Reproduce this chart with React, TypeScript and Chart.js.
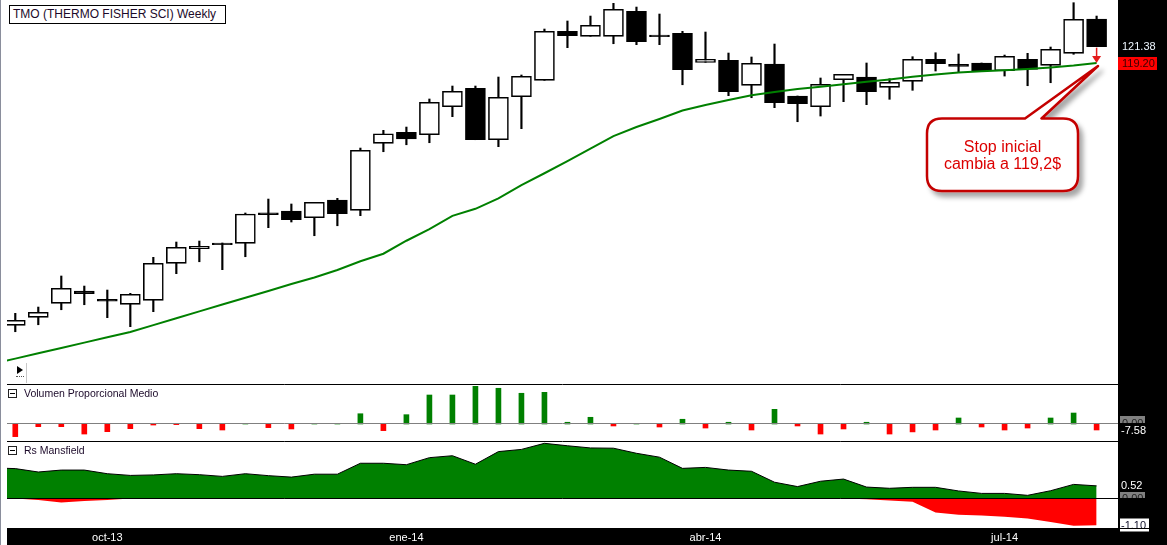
import React, { useEffect, useRef } from "react";
import { Chart, registerables } from "chart.js";

Chart.register(...registerables);

// ---------------- data (weekly TMO) ----------------
const opens = [84.23, 85.30, 87.17, 88.81, 87.69, 87.03, 87.57, 92.50, 94.45, 95.21,
  95.17, 99.23, 99.47, 98.58, 100.94, 99.57, 108.50, 109.97, 109.65, 113.38,
  115.83, 108.98, 114.71, 116.90, 123.43, 122.77, 122.77, 126.10, 122.94, 123.17,
  119.30, 119.57, 116.23, 119.07, 114.81, 113.38, 116.98, 117.34, 115.97, 116.77,
  119.70, 119.02, 119.21, 118.18, 119.70, 118.90, 120.50, 125.07];
const highs = [85.83, 86.67, 90.81, 89.47, 88.94, 88.50, 93.30, 95.34, 95.47, 95.21,
  99.21, 101.07, 100.41, 100.63, 101.17, 107.87, 110.23, 110.67, 114.41, 116.14,
  116.14, 117.34, 117.61, 123.74, 124.81, 125.47, 127.17, 126.67, 125.74, 123.43,
  123.34, 120.54, 120.01, 121.74, 114.81, 117.21, 117.70, 119.21, 117.11, 120.05,
  120.58, 120.41, 119.21, 120.27, 120.50, 121.34, 127.25, 125.47];
const lows = [83.38, 84.31, 86.31, 86.98, 85.25, 84.05, 86.05, 91.12, 92.71, 91.65,
  93.38, 97.25, 98.01, 96.18, 97.51, 98.85, 107.38, 108.31, 108.58, 112.05,
  108.98, 108.05, 110.45, 116.90, 121.25, 122.77, 121.78, 121.65, 121.65, 116.31,
  119.30, 114.85, 114.58, 113.25, 111.38, 112.14, 114.05, 113.65, 114.37, 115.57,
  118.14, 117.97, 118.14, 117.47, 116.18, 116.58, 120.37, 121.38];
const closes = [84.90, 85.97, 89.17, 88.45, 87.44, 88.37, 92.50, 94.63, 94.77, 94.98,
  99.07, 98.98, 98.31, 100.63, 99.11, 107.57, 109.78, 109.10, 113.97, 115.43,
  108.98, 114.63, 117.43, 123.43, 122.85, 124.23, 126.37, 122.05, 122.71, 118.31,
  119.70, 115.38, 119.17, 113.91, 113.78, 116.37, 117.70, 115.38, 116.63, 119.70,
  119.11, 118.77, 118.18, 120.10, 118.37, 121.03, 125.03, 121.38];

// moving average, starting one week before the first candle
const maValues = [79.08, 79.79, 80.50, 81.22, 81.93, 82.65, 83.34, 84.26, 85.17, 86.09,
  87.00, 87.91, 88.82, 89.74, 90.61, 91.61, 92.77, 93.78, 95.51, 97.07,
  98.83, 99.77, 101.17, 102.94, 104.51, 106.14, 107.78, 109.47, 110.67, 111.74,
  112.87, 113.61, 114.27, 114.91, 115.34, 115.74, 116.05, 116.38, 116.71, 117.02,
  117.37, 117.69, 117.95, 118.10, 118.23, 118.41, 118.62, 118.87, 119.20];

// Volumen Proporcional Medio
const volValues = [-16, -3.4, -3.4, -12.7, -9.7, -5.9, -1.3, -0.8, -5.9, -7.6,
  0, -4.6, -6.3, 0, 0, 13, -8.4, 11.8, 36.7, 36.7,
  47.7, 45.2, 38.9, 40.1, 2.2, 8.5, -2.5, 0, -3.8, 6,
  -5.1, 2.2, -7.6, 18.6, -2.5, -12.7, -6.3, 2.2, -12.7, -10,
  -7.6, 7.6, -3.8, -7.6, -5.1, 7.6, 13.9, -7.58];

// Rs Mansfield (starting one week before the first candle)
const rsValues = [1.26, 1.23, 1.09, 1.17, 1.17, 1.02, 0.95, 0.97, 1.02, 0.98,
  0.91, 1.02, 0.94, 0.88, 1.00, 1.00, 1.45, 1.45, 1.39, 1.68,
  1.76, 1.41, 1.93, 2.02, 2.27, 2.17, 2.08, 2.07, 1.86, 1.70,
  1.24, 1.28, 1.17, 1.12, 0.67, 0.49, 0.71, 0.80, 0.47, 0.42,
  0.46, 0.46, 0.31, 0.21, 0.21, 0.13, 0.32, 0.58, 0.52];
const rsNegValues = [0, 0, -0.06, -0.16, -0.10, -0.06, 0, 0, 0, 0,
  0, 0, 0, 0, 0, 0, 0, 0, 0, 0,
  0, 0, 0, 0, 0, 0, 0, 0, 0, 0,
  0, 0, 0, 0, 0, 0, 0, 0, -0.03, -0.08,
  -0.13, -0.58, -0.67, -0.70, -0.75, -0.82, -0.97, -1.12, -1.10];

const axisTickWeeks = [4, 17, 30, 43];
const axisTickLabels = ["oct-13", "ene-14", "abr-14", "jul-14"];

const titleText = "TMO (THERMO FISHER SCI) Weekly";
const volTitle = "Volumen Proporcional Medio";
const rsTitle = "Rs Mansfield";
const calloutLines = ["Stop inicial", "cambia a 119,2$"];

// ---------------- layout / style ----------------
const FONT = '"Liberation Sans", Arial, sans-serif';
const W = 1167;
const X_MIN = -0.36;
const X_MAX = 47.93;
const PRICE_MIN = 76.41;
const PRICE_MAX = 127.61;
const VOL_MIN = -21.52;
const VOL_MAX = 50.63;
const RS_MIN = -1.214;
const RS_MAX = 2.366;
const GREEN = "#008000";
const RED = "#ff0000";

const hiddenX = {
  type: "linear",
  min: X_MIN,
  max: X_MAX,
  offset: false,
  display: false,
  grid: { display: false },
};

const rightStrip = {
  id: "rightStrip",
  beforeDraw(chart: any) {
    const { ctx, chartArea, width, height } = chart;
    ctx.save();
    ctx.fillStyle = "#000";
    ctx.fillRect(chartArea.right, 0, width - chartArea.right, height);
    ctx.restore();
  },
};

function separator(chart: any) {
  const { ctx, chartArea } = chart;
  ctx.save();
  ctx.strokeStyle = "#000";
  ctx.lineWidth = 1;
  ctx.beginPath();
  ctx.moveTo(chartArea.left, 0.5);
  ctx.lineTo(chartArea.right, 0.5);
  ctx.stroke();
  ctx.restore();
}

function grayZeroBox(ctx: any, x: number, zero: number, top: number) {
  ctx.save();
  ctx.fillStyle = "#808080";
  ctx.fillRect(x, top, 25, zero - top);
  ctx.beginPath();
  ctx.rect(x, top, 25, zero - top);
  ctx.clip();
  ctx.fillStyle = "#202020";
  ctx.font = `11px ${FONT}`;
  ctx.textBaseline = "middle";
  ctx.fillText("0.00", x + 2, zero + 1);
  ctx.restore();
}

function mainConfig(): any {
  const last = closes.length - 1;
  return {
    type: "bar",
    data: {
      datasets: [
        {
          type: "line",
          data: maValues.map((v, i) => ({ x: i - 1, y: v })),
          borderColor: GREEN,
          borderWidth: 2,
          pointRadius: 0,
          tension: 0,
          order: 0,
        },
        {
          type: "bar",
          data: opens.map((o, i) => ({ x: i, y: [o, closes[i]] })),
          backgroundColor: opens.map((o, i) => (closes[i] >= o ? "#ffffff" : "#000000")),
          borderColor: "#000",
          borderWidth: 1.6,
          borderSkipped: false,
          barThickness: 20,
          grouped: false,
          order: 1,
        },
        {
          type: "bar",
          data: lows.map((l, i) => ({ x: i, y: [l, highs[i]] })),
          backgroundColor: "#000",
          borderWidth: 0,
          barThickness: 1.5,
          grouped: false,
          order: 2,
        },
      ],
    },
    options: {
      animation: false,
      responsive: false,
      events: [],
      layout: { padding: { left: 7, right: 49, top: 0, bottom: 0 } },
      plugins: { legend: { display: false }, tooltip: { enabled: false } },
      scales: {
        x: hiddenX,
        y: { type: "linear", min: PRICE_MIN, max: PRICE_MAX, display: false, grid: { display: false } },
      },
    },
    plugins: [
      rightStrip,
      {
        id: "mainDeco",
        afterDraw(chart: any) {
          const { ctx, chartArea } = chart;
          const xs = chart.scales.x;
          const ys = chart.scales.y;
          const ax = xs.getPixelForValue(last);
          const yC = ys.getPixelForValue(closes[last]);
          const yM = ys.getPixelForValue(maValues[maValues.length - 1]);
          ctx.save();
          ctx.strokeStyle = "#e41b1b";
          ctx.fillStyle = "#e41b1b";
          ctx.lineWidth = 1.5;
          ctx.beginPath();
          ctx.moveTo(ax, yC + 1);
          ctx.lineTo(ax, yM - 5);
          ctx.stroke();
          ctx.beginPath();
          ctx.moveTo(ax - 4.5, yM - 7);
          ctx.lineTo(ax + 4.5, yM - 7);
          ctx.lineTo(ax, yM);
          ctx.closePath();
          ctx.fill();

          const lx = chartArea.right + 4;
          ctx.font = `11px ${FONT}`;
          ctx.textBaseline = "middle";
          ctx.textAlign = "left";
          ctx.fillStyle = "#eef6ff";
          ctx.fillText(closes[last].toFixed(2), lx, yC);
          ctx.fillStyle = RED;
          ctx.fillRect(chartArea.right, Math.round(yM) - 6, 39, 13);
          ctx.fillStyle = "#3a0000";
          ctx.fillText(maValues[maValues.length - 1].toFixed(2), lx, Math.round(yM) + 0.5);
          ctx.restore();
        },
      },
    ],
  };
}

function volConfig(): any {
  return {
    type: "bar",
    data: {
      datasets: [
        {
          data: volValues.map((v, i) => ({ x: i, y: v })),
          backgroundColor: volValues.map((v) => (v >= 0 ? GREEN : RED)),
          borderWidth: 0,
          barThickness: 5,
          grouped: false,
        },
      ],
    },
    options: {
      animation: false,
      responsive: false,
      events: [],
      layout: { padding: { left: 7, right: 49, top: 0, bottom: 0 } },
      plugins: { legend: { display: false }, tooltip: { enabled: false } },
      scales: {
        x: hiddenX,
        y: { type: "linear", min: VOL_MIN, max: VOL_MAX, display: false, grid: { display: false } },
      },
    },
    plugins: [
      rightStrip,
      {
        id: "volDeco",
        afterDraw(chart: any) {
          const { ctx, chartArea } = chart;
          const ys = chart.scales.y;
          const zero = ys.getPixelForValue(0);
          separator(chart);
          ctx.save();
          ctx.strokeStyle = "#808080";
          ctx.lineWidth = 1;
          ctx.beginPath();
          ctx.moveTo(chartArea.left, Math.floor(zero) + 0.5);
          ctx.lineTo(chartArea.right, Math.floor(zero) + 0.5);
          ctx.stroke();
          ctx.restore();
          grayZeroBox(ctx, chartArea.right + 2, Math.floor(zero), Math.floor(zero) - 7);
          const lastV = volValues[volValues.length - 1];
          ctx.save();
          ctx.font = `11px ${FONT}`;
          ctx.textBaseline = "middle";
          ctx.fillStyle = "#ffffff";
          ctx.fillText(lastV.toFixed(2), chartArea.right + 3, ys.getPixelForValue(lastV) + 1);
          ctx.restore();
        },
      },
    ],
  };
}

function rsConfig(): any {
  return {
    type: "line",
    data: {
      datasets: [
        {
          data: rsValues.map((v, i) => ({ x: i - 1, y: v })),
          fill: "origin",
          backgroundColor: GREEN,
          borderColor: "#000",
          borderWidth: 1,
          pointRadius: 0,
          tension: 0,
        },
        {
          data: rsNegValues.map((v, i) => ({ x: i - 1, y: v })),
          fill: "origin",
          backgroundColor: RED,
          borderColor: "rgba(0,0,0,0)",
          borderWidth: 1,
          pointRadius: 0,
          tension: 0,
        },
      ],
    },
    options: {
      animation: false,
      responsive: false,
      events: [],
      layout: { padding: { left: 7, right: 49, top: 0, bottom: 0 } },
      plugins: { legend: { display: false }, tooltip: { enabled: false } },
      scales: {
        x: {
          type: "linear",
          min: X_MIN,
          max: X_MAX,
          offset: false,
          display: true,
          position: "bottom",
          grid: { display: false, drawTicks: false },
          border: { display: false },
          afterBuildTicks: (scale: any) => {
            scale.ticks = axisTickWeeks.map((v) => ({ value: v }));
          },
          afterFit: (scale: any) => {
            scale.height = 17;
          },
          ticks: {
            color: "#ffffff",
            font: { size: 11, family: FONT },
            autoSkip: false,
            maxRotation: 0,
            padding: 3,
            callback: (v: number) => {
              const k = axisTickWeeks.indexOf(v);
              return k >= 0 ? axisTickLabels[k] : "";
            },
          },
        },
        y: { type: "linear", min: RS_MIN, max: RS_MAX, display: false, grid: { display: false } },
      },
    },
    plugins: [
      {
        id: "rsStrips",
        beforeDraw(chart: any) {
          const { ctx, chartArea, width, height } = chart;
          ctx.save();
          ctx.fillStyle = "#000";
          ctx.fillRect(chartArea.right, 0, width - chartArea.right, height);
          ctx.fillRect(chartArea.left, chartArea.bottom, width - chartArea.left, height - chartArea.bottom);
          ctx.restore();
        },
      },
      {
        id: "rsDeco",
        afterDraw(chart: any) {
          const { ctx, chartArea } = chart;
          const ys = chart.scales.y;
          const zero = ys.getPixelForValue(0);
          separator(chart);
          ctx.save();
          ctx.strokeStyle = "#000";
          ctx.lineWidth = 1;
          ctx.beginPath();
          ctx.moveTo(chartArea.left, Math.floor(zero) + 0.5);
          ctx.lineTo(chartArea.right, Math.floor(zero) + 0.5);
          ctx.stroke();
          ctx.restore();

          const lx = chartArea.right + 3;
          const lastPos = rsValues[rsValues.length - 1];
          const lastNeg = rsNegValues[rsNegValues.length - 1];
          ctx.save();
          ctx.font = `11px ${FONT}`;
          ctx.textBaseline = "middle";
          ctx.fillStyle = "#ffffff";
          ctx.fillText(lastPos.toFixed(2), lx, ys.getPixelForValue(lastPos));
          ctx.restore();
          grayZeroBox(ctx, chartArea.right + 2, Math.floor(zero), Math.floor(zero) - 6);

          const yN = ys.getPixelForValue(lastNeg);
          ctx.save();
          ctx.fillStyle = "#ffffff";
          ctx.fillRect(chartArea.right + 2, Math.round(yN) - 6.5, 29, 13);
          ctx.fillStyle = "#10102a";
          ctx.font = `11px ${FONT}`;
          ctx.textBaseline = "middle";
          ctx.fillText(lastNeg.toFixed(2), lx, Math.round(yN) + 0.5);
          ctx.strokeStyle = "#000";
          ctx.lineWidth = 1;
          ctx.beginPath();
          ctx.moveTo(chartArea.right + 2, chartArea.bottom + 0.5);
          ctx.lineTo(chartArea.right + 31, chartArea.bottom + 0.5);
          ctx.stroke();
          ctx.restore();
        },
      },
    ],
  };
}

function PanelLabel({ top, text }: { top: number; text: string }) {
  return (
    <>
      <div
        style={{
          position: "absolute",
          left: 8,
          top: top + 2,
          width: 9,
          height: 9,
          border: "1px solid #222",
          boxSizing: "border-box",
          background: "#fff",
        }}
      >
        <div style={{ position: "absolute", left: 1, top: 3, width: 5, height: 1, background: "#000" }} />
      </div>
      <div
        style={{
          position: "absolute",
          left: 24,
          top,
          font: `10.5px ${FONT}`,
          lineHeight: "13px",
          color: "#1c0a2a",
          whiteSpace: "nowrap",
        }}
      >
        {text}
      </div>
    </>
  );
}

export default function App() {
  const mainRef = useRef<HTMLCanvasElement>(null);
  const volRef = useRef<HTMLCanvasElement>(null);
  const rsRef = useRef<HTMLCanvasElement>(null);

  useEffect(() => {
    const charts: Chart[] = [];
    if (mainRef.current) charts.push(new Chart(mainRef.current, mainConfig()));
    if (volRef.current) charts.push(new Chart(volRef.current, volConfig()));
    if (rsRef.current) charts.push(new Chart(rsRef.current, rsConfig()));
    return () => charts.forEach((c) => c.destroy());
  }, []);

  const l = 927, t = 118.5, r = 1078, b = 191, rad = 15;
  const w1 = 1025, w2 = 1041.5, tipX = 1098, tipY = 66;
  const path = `M ${l + rad} ${t} L ${w1} ${t} L ${tipX} ${tipY} L ${w2} ${t} L ${r - rad} ${t} Q ${r} ${t} ${r} ${t + rad} L ${r} ${b - rad} Q ${r} ${b} ${r - rad} ${b} L ${l + rad} ${b} Q ${l} ${b} ${l} ${b - rad} L ${l} ${t + rad} Q ${l} ${t} ${l + rad} ${t} Z`;

  return (
    <div
      style={{
        position: "absolute",
        left: 0,
        top: 0,
        width: W,
        height: 545,
        background: "#fff",
        overflow: "hidden",
        fontFamily: FONT,
      }}
    >
      <canvas ref={mainRef} width={W} height={384} style={{ position: "absolute", left: 0, top: 0, width: W, height: 384 }} />
      <canvas ref={volRef} width={W} height={57} style={{ position: "absolute", left: 0, top: 384, width: W, height: 57 }} />
      <canvas ref={rsRef} width={W} height={104} style={{ position: "absolute", left: 0, top: 441, width: W, height: 104 }} />

      <div style={{ position: "absolute", left: 0, top: 0, width: 1, height: 545, background: "#8a8e9c" }} />

      <div
        style={{
          position: "absolute",
          left: 9,
          top: 5,
          width: 217,
          height: 19,
          boxSizing: "border-box",
          border: "1px solid #000",
          background: "#fff",
          paddingLeft: 3,
          font: `12px ${FONT}`,
          lineHeight: "17px",
          color: "#1c0a2a",
          whiteSpace: "nowrap",
        }}
      >
        {titleText}
      </div>

      <div
        style={{
          position: "absolute",
          left: 14,
          top: 363,
          width: 13,
          height: 20,
          borderRight: "1px solid #c8c8c8",
          boxSizing: "border-box",
        }}
      >
        <div
          style={{
            position: "absolute",
            left: 3,
            top: 3,
            width: 0,
            height: 0,
            borderLeft: "6px solid #000",
            borderTop: "4px solid transparent",
            borderBottom: "4px solid transparent",
          }}
        />
        <div style={{ position: "absolute", left: 2, top: 13, width: 8, borderTop: "1px dotted #555" }} />
      </div>

      <PanelLabel top={387} text={volTitle} />
      <PanelLabel top={443.5} text={rsTitle} />

      <svg
        width={W}
        height={545}
        style={{ position: "absolute", left: 0, top: 0, pointerEvents: "none" }}
      >
        <defs>
          <filter id="calloutShadow" x="-20%" y="-20%" width="140%" height="150%">
            <feDropShadow dx="4" dy="5" stdDeviation="2.5" floodColor="#000" floodOpacity="0.35" />
          </filter>
        </defs>
        <path d={path} fill="#fff" stroke="#c40000" strokeWidth={2.5} strokeLinejoin="round" filter="url(#calloutShadow)" />
        {calloutLines.map((line, i) => (
          <text
            key={line}
            x={(l + r) / 2}
            y={146 + i * 17}
            textAnchor="middle"
            dominantBaseline="central"
            fontFamily={FONT}
            fontSize={16}
            fill="#dc0000"
          >
            {line}
          </text>
        ))}
      </svg>
    </div>
  );
}
